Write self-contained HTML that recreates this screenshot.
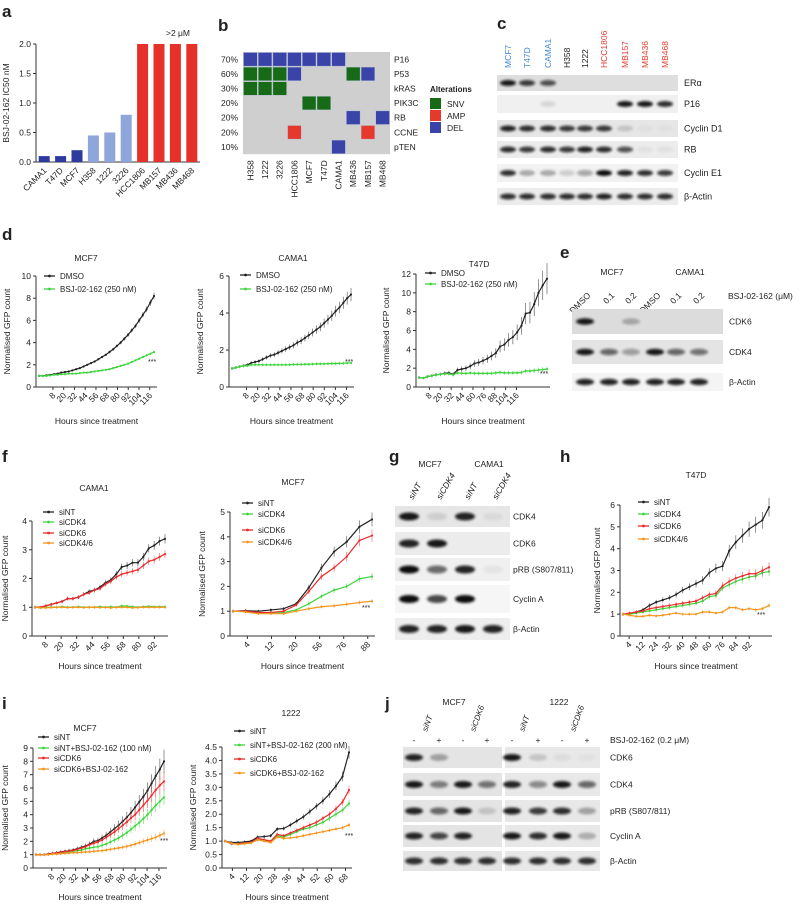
<!DOCTYPE html>
<html><head><meta charset="utf-8"><style>
body{margin:0;background:#fff;width:800px;height:905px;overflow:hidden}
svg{font-family:"Liberation Sans",Arial,sans-serif;display:block}
.pl{font-weight:bold;font-size:17px}
</style></head><body>
<svg id="fig" width="800" height="905" viewBox="0 0 800 905" fill="#222" xmlns="http://www.w3.org/2000/svg">
<defs><filter id="bl" x="-30%" y="-60%" width="160%" height="220%"><feGaussianBlur stdDeviation="1.2"/></filter></defs>
<g id="labels">
<text class="pl" x="2" y="17">a</text><text class="pl" x="218" y="31">b</text><text class="pl" x="497" y="29">c</text>
<text class="pl" x="2" y="240">d</text><text class="pl" x="560" y="258">e</text>
<text class="pl" x="2" y="462">f</text><text class="pl" x="389" y="462">g</text><text class="pl" x="560" y="462">h</text>
<text class="pl" x="2" y="709">i</text><text class="pl" x="385" y="709">j</text>
</g>
<g id="root"></g>
</svg>
<script>
// ---------- panel a data ----------
const aCats=["CAMA1","T47D","MCF7","H358","1222","3226","HCC1806","MB157","MB436","MB468"];
const aVals=[0.1,0.1,0.2,0.45,0.5,0.8,2,2,2,2];
const aGroup=[0,0,0,1,1,1,2,2,2,2];
const aTicks=["0.0","0.5","1.0","1.5","2.0"];
// ---------- panel b data ----------
const bCols=["H358","1222","3226","HCC1806","MCF7","T47D","CAMA1","MB436","MB157","MB468"];
const bRows=["P16","P53","kRAS","PIK3C","RB","CCNE","pTEN"];
const bPct=["70%","60%","30%","20%","20%","20%","10%"];
const bMatrix=[
"DDDDDDD...",
"SSSD...SD.",
"SSS.......",
"....SS....",
".......D.D",
"...A....A.",
"......D..."];
// ---------- panel d data ----------
const dTicks=["8","20","32","44","56","68","80","92","104","116"];
const dT47Ticks=["8","20","32","44","60","76","88","104","116"];
const dMcf7Dmso=[1.0,1.0,1.05,1.1,1.15,1.2,1.3,1.35,1.4,1.5,1.6,1.7,1.85,2.0,2.15,2.3,2.5,2.7,2.9,3.15,3.4,3.7,4.0,4.35,4.7,5.1,5.5,6.0,6.5,7.0,7.6,8.2];
const dMcf7Bsj=[1.0,1.0,1.0,1.05,1.1,1.1,1.15,1.15,1.2,1.2,1.2,1.25,1.3,1.3,1.35,1.4,1.45,1.5,1.55,1.6,1.7,1.8,1.9,2.0,2.1,2.25,2.4,2.55,2.7,2.85,3.0,3.15];
const dCamaDmso=[1.0,1.05,1.1,1.15,1.2,1.3,1.35,1.4,1.5,1.6,1.7,1.75,1.85,1.95,2.05,2.15,2.25,2.4,2.5,2.65,2.8,2.95,3.1,3.25,3.45,3.65,3.85,4.1,4.3,4.55,4.8,5.0];
const dCamaBsj=[1.0,1.05,1.1,1.15,1.15,1.2,1.2,1.2,1.2,1.2,1.2,1.2,1.2,1.2,1.2,1.2,1.22,1.22,1.22,1.23,1.23,1.24,1.25,1.25,1.25,1.26,1.27,1.27,1.28,1.28,1.3,1.3];
const dT47Dmso=[1.0,0.95,1.1,1.2,1.3,1.35,1.45,1.5,1.35,1.8,1.9,2.0,2.2,2.5,2.6,2.8,3.0,3.3,3.6,4.3,4.5,5.0,5.3,5.8,6.5,7.8,7.9,8.8,10.0,10.8,11.5];
const dT47Bsj=[1.0,0.95,1.1,1.2,1.3,1.35,1.4,1.4,1.3,1.5,1.45,1.45,1.5,1.45,1.45,1.45,1.45,1.45,1.5,1.55,1.5,1.5,1.5,1.5,1.55,1.7,1.7,1.75,1.8,1.85,1.9];
// ---------- panel f data ----------
const fCamaTicks=["8","20","32","44","56","68","80","92"];
const fCamaNT=[1.0,1.0,1.05,1.1,1.15,1.2,1.3,1.3,1.35,1.45,1.55,1.6,1.7,1.85,1.95,2.15,2.4,2.45,2.55,2.55,2.75,3.05,3.15,3.3,3.38];
const fCamaK4=[1.0,0.98,1.0,1.0,1.0,1.02,1.0,1.0,1.02,1.0,1.0,1.0,1.02,1.0,1.02,1.0,1.05,1.04,1.02,1.0,1.02,1.03,1.02,1.02,1.02];
const fCamaK6=[1.0,1.0,1.05,1.1,1.15,1.2,1.3,1.3,1.35,1.45,1.5,1.6,1.65,1.8,1.9,2.05,2.15,2.2,2.25,2.3,2.45,2.6,2.65,2.75,2.85];
const fCamaK46=[1.0,0.98,0.98,0.99,1.0,1.0,0.99,1.0,1.0,0.99,1.0,1.0,0.99,1.0,0.98,1.0,1.0,1.0,0.98,0.99,1.0,1.0,1.0,1.0,1.0];
const fMcfTicks=["4","12","20","56","76","88"];
const fMcfNT=[1.0,1.02,1.0,1.05,1.1,1.3,1.95,2.75,3.4,3.8,4.4,4.7];
const fMcfK4=[1.0,0.98,0.92,0.92,0.95,1.05,1.3,1.6,1.85,2.0,2.3,2.4];
const fMcfK6=[1.0,1.0,0.95,0.95,1.0,1.25,1.8,2.4,2.75,3.2,3.85,4.05];
const fMcfK46=[1.0,0.97,0.9,0.9,0.9,1.0,1.1,1.18,1.22,1.28,1.35,1.4];
// ---------- panel h data ----------
const hTicks=["4","12","24","32","40","48","60","76","84","92"];
const hNT=[1.0,1.0,1.1,1.2,1.4,1.55,1.65,1.75,1.9,2.1,2.25,2.4,2.55,2.9,3.1,3.2,3.9,4.3,4.6,4.9,5.1,5.3,5.9];
const hK4=[1.0,1.0,1.05,1.1,1.15,1.2,1.25,1.3,1.35,1.4,1.45,1.5,1.6,1.8,1.85,2.2,2.35,2.5,2.6,2.7,2.75,2.9,2.95];
const hK6=[1.0,1.05,1.1,1.15,1.25,1.3,1.35,1.4,1.45,1.5,1.55,1.6,1.75,1.9,1.95,2.3,2.5,2.65,2.75,2.85,2.85,3.0,3.15];
const hK46=[1.0,0.95,0.9,0.9,0.95,0.92,0.95,1.0,1.05,1.0,1.0,1.0,1.1,1.1,1.05,1.1,1.3,1.3,1.2,1.25,1.2,1.25,1.4];
// ---------- panel i data ----------
const iMcfTicks=["8","20","32","44","56","68","80","92","104","116"];
const iMcfNT=[1,1,1,1.05,1.1,1.15,1.2,1.25,1.3,1.35,1.45,1.55,1.65,1.8,2.0,2.05,2.25,2.45,2.7,2.95,3.2,3.5,3.8,4.15,4.55,4.95,5.35,5.8,6.35,6.9,7.4,8.0];
const iMcfNTB=[1,1,1,1.02,1.05,1.1,1.12,1.15,1.2,1.25,1.3,1.35,1.45,1.5,1.55,1.6,1.7,1.8,1.95,2.1,2.25,2.45,2.65,2.9,3.15,3.4,3.7,4.0,4.35,4.7,5.0,5.3];
const iMcfK6=[1,1,1,1.05,1.1,1.12,1.18,1.22,1.28,1.32,1.4,1.5,1.6,1.75,1.85,1.95,2.1,2.3,2.5,2.7,2.95,3.2,3.45,3.75,4.0,4.35,4.7,5.05,5.45,5.85,6.2,6.5];
const iMcfK6B=[1,1,1,1.0,1.05,1.05,1.08,1.1,1.12,1.15,1.15,1.18,1.2,1.22,1.25,1.28,1.3,1.35,1.4,1.45,1.5,1.55,1.62,1.7,1.8,1.9,2.0,2.1,2.2,2.3,2.45,2.6];
const iTicks1222=["4","12","20","28","36","44","52","60","68"];
const i1222NT=[1.0,0.95,0.95,0.97,1.0,1.15,1.17,1.2,1.45,1.47,1.6,1.75,1.9,2.1,2.3,2.5,2.75,3.05,3.4,4.3];
const i1222NTB=[1.0,0.9,0.9,0.92,0.95,1.05,1.02,0.98,1.2,1.15,1.25,1.35,1.45,1.5,1.6,1.7,1.85,2.0,2.15,2.4];
const i1222K6=[1.0,0.9,0.9,0.92,0.95,1.1,1.05,1.0,1.25,1.2,1.3,1.4,1.5,1.6,1.7,1.85,2.0,2.2,2.45,2.9];
const i1222K6B=[1.0,0.92,0.88,0.9,0.93,1.05,1.0,0.95,1.15,1.1,1.12,1.15,1.2,1.25,1.3,1.35,1.4,1.45,1.5,1.6];

const NS="http://www.w3.org/2000/svg";
const root=document.getElementById('root');
function mk(tag,attrs,parent,txt){const e=document.createElementNS(NS,tag);for(const k in attrs)e.setAttribute(k,attrs[k]);if(txt!==undefined)e.textContent=txt;(parent||root).appendChild(e);return e;}
const BLK="#222",GRN="#3ed63e",RED="#ee2a2a",ORG="#f5961e";

// ---------- panel a ----------
(function(){
 const g=mk('g',{});
 
 
 const x0=36,x1=200,y0=162,yT=44,ymax=2;
 const ys=v=>y0-(v/ymax)*(y0-yT);
 const step=(x1-x0)/aCats.length;
 mk('line',{x1:x0,y1:yT,x2:x0,y2:y0,stroke:'#333','stroke-width':1},g);
 mk('line',{x1:x0,y1:y0,x2:x1,y2:y0,stroke:'#333','stroke-width':1},g);
 aTicks.forEach((t,i)=>{const y=ys(i*0.5);mk('line',{x1:x0-3,y1:y,x2:x0,y2:y,stroke:'#333'},g);
  const tx=mk('text',{x:x0-5,y:y+3,'font-size':8.5,'text-anchor':'end'},g,t);
  });
 const cols=["#2e3a9e","#8fa6dc","#e5312a"];
 aCats.forEach((c,i)=>{const cx=x0+step*(i+0.5);
  const r=mk('rect',{x:cx-5.5,y:ys(aVals[i]),width:11,height:y0-ys(aVals[i]),fill:cols[aGroup[i]]},g);
  
  const t=mk('text',{x:cx+3,y:y0+9,'font-size':8.5,'text-anchor':'end',transform:`rotate(-45 ${cx+3} ${y0+9})`},g,c);
  });
 const yt=mk('text',{x:9,y:103,'font-size':8.5,'text-anchor':'middle',transform:'rotate(-90 9 103)'},g,'BSJ-02-162 IC50 nM');
 
 const n=mk('text',{x:178,y:36,'font-size':8.5,'text-anchor':'middle'},g,'>2 μM');
 
})();

// ---------- panel b ----------
(function(){
 const g=mk('g',{});
 
 
 const gx=243,gy=52,cw=14.7,rh=14.6;
 mk('rect',{x:gx,y:gy,width:cw*10,height:rh*7,fill:'#cfcfcf'},g);
 const col={S:'#176b17',A:'#e6392d',D:'#3a44a8'};
 bMatrix.forEach((row,r)=>{[...row].forEach((ch,c)=>{if(ch==='.')return;
   const cell=mk('rect',{x:gx+c*cw+0.5,y:gy+r*rh+0.5,width:cw-1,height:rh-1,fill:col[ch],stroke:'#b9c6e0','stroke-width':0.4},g);
   });
  const p=mk('text',{x:gx-5,y:gy+r*rh+rh/2+3,'font-size':8.5,'text-anchor':'end'},g,bPct[r]);
  
  const l=mk('text',{x:gx+cw*10+4,y:gy+r*rh+rh/2+3,'font-size':8.5},g,bRows[r]);
  });
 bCols.forEach((c,i)=>{const cx=gx+cw*(i+0.5)+3,cy=gy+rh*7+6;
  const t=mk('text',{x:cx,y:cy,'font-size':8.5,'text-anchor':'end',transform:`rotate(-90 ${cx} ${cy})`},g,c);
  });
 const lt=mk('text',{x:430,y:92,'font-size':8,'font-weight':'bold'},g,'Alterations');
 
 [['SNV','#176b17'],['AMP','#e6392d'],['DEL','#3a44a8']].forEach((e,i)=>{
  const le=mk('g',{},g);
  mk('rect',{x:430,y:98+i*12,width:11,height:11,fill:e[1]},le);
  mk('text',{x:447,y:107+i*12,'font-size':8.5},le,e[0]);});
})();

// ---------- blots helper ----------
function blot(g,x,y,w,h,bg,bands){
 mk('rect',{x:x,y:y,width:w,height:h,fill:bg||'#e6e6e6'},g);
 bands.forEach(b=>{mk('ellipse',{cx:b[0],cy:b[1],rx:b[2],ry:b[3],fill:'#111','fill-opacity':b[4],filter:'url(#bl)'},g);});
}
function lbl(g,x,y,t,name,size,col,anchor,rot){
 const a={x:x,y:y,'font-size':size||8.5};if(col)a.fill=col;if(anchor)a['text-anchor']=anchor;if(rot)a.transform=`rotate(${rot} ${x} ${y})`;
 const e=mk('text',a,g,t);return e;
}

// ---------- panel c ----------
(function(){
 const g=mk('g',{});
 const names=["MCF7","T47D","CAMA1","H358","1222","HCC1806","MB157","MB436","MB468"];
 const colr=["#3f86d4","#3f86d4","#3f86d4","#222","#222","#e6392d","#e6392d","#e6392d","#e6392d"];
 const lx=[508,527,548,567,585,604,625,645,665];
 names.forEach((n,i)=>lbl(g,lx[i]+3,68,n,'lane-label',8.5,colr[i],'start',-90));
 const rows=[[75,16,'ERα',[.95,.8,.7,0,0,0,0,0,0],'#dedede'],[95,18,'P16',[0,0,.1,0,0,0,.95,.95,.85],'#f0f0f0'],[120,17,'Cyclin D1',[.9,.85,.85,.8,.8,.8,.15,.03,.03],'#e6e6e6'],[141,17,'RB',[.85,.8,.85,.8,.9,.85,.7,.05,.05],'#ececec'],[164,18,'Cyclin E1',[.85,.3,.3,.15,.35,1,.9,.85,.8],'#f2f2f2'],[188,17,'β-Actin',[.85,.85,.85,.85,.85,.9,.85,.85,.85],'#ececec']];
 rows.forEach(r=>{const b=r[3].map((o,i)=>[lx[i],r[0]+r[1]/2,8,3,o]);blot(g,497,r[0],181,r[1],r[4],b);
  lbl(g,684,r[0]+r[1]/2+3,r[2],'blot-label',9);});
})();

// ---------- panel e ----------
(function(){
 const g=mk('g',{});
 lbl(g,612,275,'MCF7','group-label',8.5,null,'middle');lbl(g,690,275,'CAMA1','group-label',8.5,null,'middle');
 const lx=[585,609,631,655,676,699];const ln=['DMSO','0.1','0.2','DMSO','0.1','0.2'];
 ln.forEach((t,i)=>lbl(g,lx[i]+6,296,t,'lane-label',8.5,null,'end',-45));
 lbl(g,728,299,'BSJ-02-162 (μM)','treatment-label',8.5);
 const rows=[[309,25,'CDK6',[.95,0,.25,0,0,0],'#dcdcdc'],[340,24,'CDK4',[.95,.6,.35,.95,.6,.55],'#e4e4e4'],[373,18,'β-Actin',[.9,.9,.9,.9,.9,.9],'#f4f4f4']];
 rows.forEach(r=>{blot(g,572,r[0],151,r[1],r[4],r[3].map((o,i)=>[lx[i],r[0]+r[1]/2,9,3.2,o]));lbl(g,729,r[0]+r[1]/2+3,r[2],'blot-label',8.5);});
})();

// ---------- panel g ----------
(function(){
 const g=mk('g',{});
 lbl(g,430,467,'MCF7','group-label',8.5,null,'middle');lbl(g,489,467,'CAMA1','group-label',8.5,null,'middle');
 const lx=[409,437,465,493];['siNT','siCDK4','siNT','siCDK4'].forEach((t,i)=>lbl(g,lx[i]+4,500,t,'lane-label',8.5,null,'start',-60).setAttribute('font-style','italic'));
 const rows=[[506,21,'CDK4',[.95,.1,.9,.05],'#e6e6e6'],[532,23,'CDK6',[.9,.95,0,0],'#ececec'],[558,23,'pRB (S807/811)',[1,.6,.9,.05],'#f0f0f0'],[585,28,'Cyclin A',[1,.75,1,0],'#f6f6f6'],[618,22,'β-Actin',[.9,.9,.95,.9],'#eeeeee']];
 rows.forEach(r=>{blot(g,395,r[0],115,r[1],r[4],r[3].map((o,i)=>[lx[i],r[0]+r[1]/2,10,4,o]));lbl(g,513,r[0]+r[1]/2+3,r[2],'blot-label',8.5);});
})();

// ---------- panel j ----------
(function(){
 const g=mk('g',{});
 lbl(g,454,705,'MCF7','group-label',8.5,null,'middle');lbl(g,559,705,'1222','group-label',8.5,null,'middle');
 const lx=[414,439,463,487,512,538,562,587];
 [['siNT',427],['siCDK6',475],['siNT',524],['siCDK6',575]].forEach(s=>lbl(g,s[1],732,s[0],'lane-label',8,null,'start',-70).setAttribute('font-style','italic'));
 ['-','+','-','+','-','+','-','+'].forEach((t,i)=>lbl(g,lx[i],743,t,'treatment-sign',8.5,null,'middle'));
 lbl(g,610,743,'BSJ-02-162 (0.2 μM)','treatment-label',8.5);
 const rows=[[747,21,'CDK6',[.9,.3,0,0,.95,.15,.05,.03]],[773,23,'CDK4',[.95,.5,.95,.55,.9,.45,.95,.6]],[800,22,'pRB (S807/811)',[.9,.6,.95,.15,.9,.8,.85,.3]],[825,22,'Cyclin A',[.9,.75,.9,0,.95,.85,.95,.25]],[851,20,'β-Actin',[.85,.85,.85,.85,.85,.85,.85,.85]]];
 rows.forEach(r=>{blot(g,403,r[0],99,r[1],'#e4e4e4',r[3].slice(0,4).map((o,i)=>[lx[i],r[0]+r[1]/2,9,3.5,o]));
  blot(g,505,r[0],95,r[1],'#e8e8e8',r[3].slice(4).map((o,i)=>[lx[i+4],r[0]+r[1]/2,9,3.5,o]));
  lbl(g,610,r[0]+r[1]/2+3,r[2],'blot-label',8.5);});
})();

// ---------- line charts ----------
function lineChart(c){
 const g=mk('g',{});
 const ys=v=>c.y0-(v/c.ymax)*(c.y0-c.yT);
 mk('line',{x1:c.x0,y1:c.yT,x2:c.x0,y2:c.y0,stroke:'#333'},g);
 mk('line',{x1:c.x0,y1:c.y0,x2:c.x1,y2:c.y0,stroke:'#333'},g);
 c.yticks.forEach(t=>{const y=ys(parseFloat(t));mk('line',{x1:c.x0-3,y1:y,x2:c.x0,y2:y,stroke:'#333'},g);lbl(g,c.x0-5,y+3,t,'y-tick-label',8.5,null,'end');});
 const n=c.xticks.length;
 c.xticks.forEach((t,i)=>{const x=c.x0+(c.x1-c.x0)*(c.tf0+(c.tf1-c.tf0)*i/Math.max(1,n-1));
  mk('line',{x1:x,y1:c.y0,x2:x,y2:c.y0+3,stroke:'#333'},g);lbl(g,x+3,c.y0+9,t,'x-tick-label',8.5,null,'end',-45);});
 const px0=c.x0+3,px1=c.x1-3;
 c.series.forEach(s=>{const sg=mk('g',{},g);
  const m=s.vals.length;const xs=i=>px0+(px1-px0)*i/(m-1);
  mk('polyline',{points:s.vals.map((v,i)=>xs(i)+','+ys(v)).join(' '),fill:'none',stroke:s.color,'stroke-width':1.2},sg);
  s.vals.forEach((v,i)=>{const e=(c.y0-c.yT)*0.012*v*(s.eb||1);
   mk('line',{x1:xs(i),y1:ys(v)-e,x2:xs(i),y2:ys(v)+e,stroke:s.color,'stroke-width':0.6,'stroke-opacity':0.8},sg);
   mk('circle',{cx:xs(i),cy:ys(v),r:1.1,fill:s.color},sg);});});
 c.series.forEach((s,i)=>{const le=mk('g',{},g);
  const y=c.leg[1][i];mk('line',{x1:c.leg[0],y1:y,x2:c.leg[0]+11,y2:y,stroke:s.color,'stroke-width':1.3},le);
  mk('circle',{cx:c.leg[0]+5.5,cy:y,r:1.4,fill:s.color},le);
  mk('text',{x:c.leg[0]+16,y:y+3,'font-size':c.lfs||8},le,s.label);});
 lbl(g,c.title[0],c.title[1],c.title[2],'chart-title',8.5,null,'middle');
 lbl(g,(c.x0+c.x1)/2,c.hy,'Hours since treatment','x-axis-title',8.5,null,'middle');
 lbl(g,c.yx,(c.y0+c.yT)/2,'Normalised GFP count','y-axis-title',8.5,null,'middle',-90);
 if(c.star)lbl(g,c.star[0],c.star[1],'***','significance',7);
}
lineChart({name:'chart-d-mcf7',x0:36,x1:157,y0:387,yT:276,ymax:10,yticks:["0","2","4","6","8","10"],xticks:dTicks,tf0:0.14,tf1:0.94,
 series:[{vals:dMcf7Dmso,color:BLK,label:'DMSO',eb:0.3},{vals:dMcf7Bsj,color:GRN,label:'BSJ-02-162 (250 nM)',eb:0.3}],leg:[44,[276,289]],
 title:[86,261,'MCF7'],hy:424,yx:10,star:[148,364]});
lineChart({name:'chart-d-cama1',x0:229,x1:354,y0:387,yT:276,ymax:6,yticks:["0","2","4","6"],xticks:dTicks,tf0:0.14,tf1:0.94,
 series:[{vals:dCamaDmso,color:BLK,label:'DMSO'},{vals:dCamaBsj,color:GRN,label:'BSJ-02-162 (250 nM)'}],leg:[240,[275,289]],
 title:[293,261,'CAMA1'],hy:424,yx:203,star:[345,364]});
lineChart({name:'chart-d-t47d',x0:416,x1:550,y0:387,yT:274,ymax:12,yticks:["0","2","4","6","8","10","12"],xticks:dT47Ticks,tf0:0.1,tf1:0.75,
 series:[{vals:dT47Dmso,color:BLK,label:'DMSO'},{vals:dT47Bsj,color:GRN,label:'BSJ-02-162 (250 nM)'}],leg:[425,[273,284]],
 title:[479,267,'T47D'],hy:424,yx:389,star:[540,376]});
lineChart({name:'chart-f-cama1',x0:32,x1:168,y0:636,yT:521,ymax:4,yticks:["0","1","2","3","4"],xticks:fCamaTicks,tf0:0.1,tf1:0.9,
 series:[{vals:fCamaNT,color:BLK,label:'siNT'},{vals:fCamaK4,color:GRN,label:'siCDK4'},{vals:fCamaK6,color:RED,label:'siCDK6'},{vals:fCamaK46,color:ORG,label:'siCDK4/6'}],leg:[43,[512,522,533,543]],
 title:[94,491,'CAMA1'],hy:669,yx:8});
lineChart({name:'chart-f-mcf7',x0:230,x1:375,y0:636,yT:512,ymax:5,yticks:["0","1","2","3","4","5"],xticks:fMcfTicks,tf0:0.12,tf1:0.95,
 series:[{vals:fMcfNT,color:BLK,label:'siNT'},{vals:fMcfK4,color:GRN,label:'siCDK4'},{vals:fMcfK6,color:RED,label:'siCDK6'},{vals:fMcfK46,color:ORG,label:'siCDK4/6'}],leg:[242,[503,514,530,542]],
 title:[293,485,'MCF7'],hy:669,yx:205,star:[362,610]});
lineChart({name:'chart-h-t47d',x0:620,x1:772,y0:636,yT:505,ymax:6,yticks:["0","1","2","3","4","5","6"],xticks:hTicks,tf0:0.06,tf1:0.85,
 series:[{vals:hNT,color:BLK,label:'siNT'},{vals:hK4,color:GRN,label:'siCDK4'},{vals:hK6,color:RED,label:'siCDK6'},{vals:hK46,color:ORG,label:'siCDK4/6'}],leg:[638,[502,514,526,539]],
 title:[696,478,'T47D'],hy:669,yx:600,star:[757,617]});
lineChart({name:'chart-i-mcf7',x0:33,x1:167,y0:868,yT:748,ymax:9,yticks:["0","1","2","3","4","5","6","7","8","9"],xticks:iMcfTicks,tf0:0.14,tf1:0.94,
 series:[{vals:iMcfNT,color:BLK,label:'siNT'},{vals:iMcfNTB,color:GRN,label:'siNT+BSJ-02-162 (100 nM)'},{vals:iMcfK6,color:RED,label:'siCDK6'},{vals:iMcfK6B,color:ORG,label:'siCDK6+BSJ-02-162'}],leg:[38,[737,748,758,769]],
 title:[85,731,'MCF7'],hy:900,yx:8,star:[160,843]});
lineChart({name:'chart-i-1222',x0:222,x1:352,y0:868,yT:747,ymax:4.5,yticks:["0.0","0.5","1.0","1.5","2.0","2.5","3.0","3.5","4.0","4.5"],xticks:iTicks1222,tf0:0.08,tf1:0.95,
 series:[{vals:i1222NT,color:BLK,label:'siNT'},{vals:i1222NTB,color:GRN,label:'siNT+BSJ-02-162 (200 nM)'},{vals:i1222K6,color:RED,label:'siCDK6'},{vals:i1222K6B,color:ORG,label:'siCDK6+BSJ-02-162'}],leg:[234,[731,745,759,773]],
 title:[291,716,'1222'],hy:900,yx:196,star:[345,838]});
</script>
</body></html>
